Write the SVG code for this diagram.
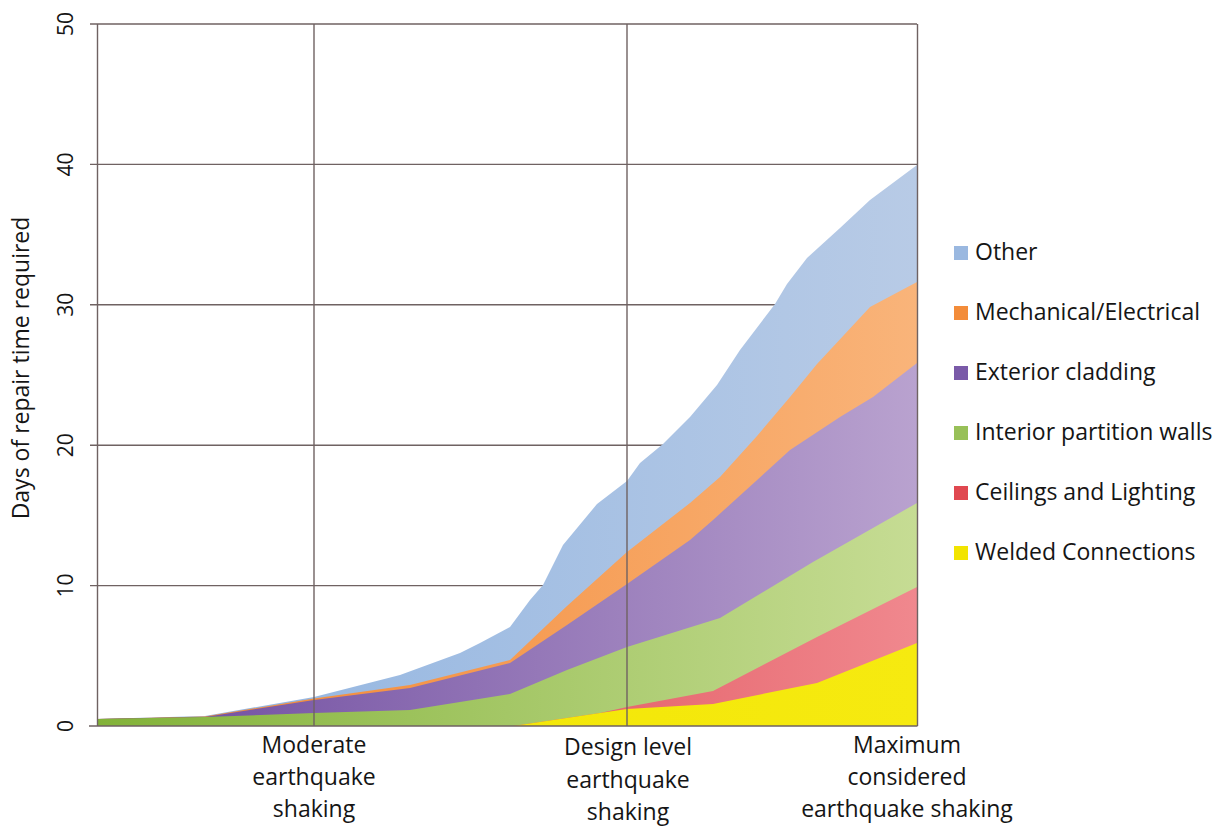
<svg xmlns="http://www.w3.org/2000/svg" width="1231" height="828" viewBox="0 0 1231 828">
<style>
.grid{stroke:#6f6262;stroke-width:1.4;fill:none}
.t{font-family:"Open Sans","Liberation Sans",sans-serif;fill:#151515}
.ax{font-size:23px;text-anchor:middle}
.tick{font-size:21px;text-anchor:middle}
.lg{font-size:23px}
</style>
<defs>
<linearGradient id="gBlue" gradientUnits="userSpaceOnUse" x1="97" y1="0" x2="917" y2="0"><stop offset="0" stop-color="#8db2e0"/><stop offset="1" stop-color="#b8cbe6"/></linearGradient>
<linearGradient id="gOrange" gradientUnits="userSpaceOnUse" x1="97" y1="0" x2="917" y2="0"><stop offset="0" stop-color="#f2822a"/><stop offset="1" stop-color="#f9b47a"/></linearGradient>
<linearGradient id="gPurple" gradientUnits="userSpaceOnUse" x1="97" y1="0" x2="917" y2="0"><stop offset="0" stop-color="#6b479d"/><stop offset="1" stop-color="#b9a2cf"/></linearGradient>
<linearGradient id="gGreen" gradientUnits="userSpaceOnUse" x1="97" y1="0" x2="917" y2="0"><stop offset="0" stop-color="#82b238"/><stop offset="1" stop-color="#c6dc94"/></linearGradient>
<linearGradient id="gRed" gradientUnits="userSpaceOnUse" x1="97" y1="0" x2="917" y2="0"><stop offset="0" stop-color="#d6303a"/><stop offset="1" stop-color="#f0888e"/></linearGradient>
<linearGradient id="gYellow" gradientUnits="userSpaceOnUse" x1="97" y1="0" x2="917" y2="0"><stop offset="0" stop-color="#f0e400"/><stop offset="1" stop-color="#f6ea10"/></linearGradient>
</defs>
<rect width="1231" height="828" fill="#ffffff"/>
<g id="gridlines">
<line class="grid" x1="90" y1="24" x2="917" y2="24"/>
<line class="grid" x1="90" y1="164.4" x2="917" y2="164.4"/>
<line class="grid" x1="90" y1="304.8" x2="917" y2="304.8"/>
<line class="grid" x1="90" y1="445.2" x2="917" y2="445.2"/>
<line class="grid" x1="90" y1="585.6" x2="917" y2="585.6"/>
</g>
<g id="areas">
<polygon id="other" fill="url(#gBlue)" points="97,719 205,716 314,697 400,675 460,653 480,643 510,627 530,600 543,585 563,545 597,504 627,481 640,463 663,444 690,417 717,385 740,350 775,304 787,284 807,258 840,228 870,200 917,165 917,726 97,726"/>
<polygon id="mech" fill="url(#gOrange)" points="97,719 205,716.5 314,698.5 410,685 510,660 567,606 627,552 690,503 720,477 757,436 790,397 817,364 870,307 917,282 917,726 97,726"/>
<polygon id="cladding" fill="url(#gPurple)" points="97,719 205,717 314,700 410,688 510,663 567,625 627,584 690,540 713,520 790,450 840,417 873,397 917,363 917,726 97,726"/>
<polygon id="partition" fill="url(#gGreen)" points="97,719 205,717 314,713 410,710 510,694 567,670 627,647 720,618 813,562 917,503 917,726 97,726"/>
<polygon id="ceilings" fill="url(#gRed)" points="97,726 513,726 600,713 627,707 713,691 817,637 917,587 917,726"/>
<polygon id="welded" fill="url(#gYellow)" points="97,726 513,726 600,713 627,709 713,704 817,683 917,643 917,726"/>
</g>
<g id="axes">
<line class="grid" x1="97.5" y1="24" x2="97.5" y2="726"/>
<line class="grid" x1="917.5" y1="24" x2="917.5" y2="726"/>
<line class="grid" x1="314" y1="24" x2="314" y2="726"/>
<line class="grid" x1="627" y1="24" x2="627" y2="726"/>
<line class="grid" x1="89" y1="726" x2="917.5" y2="726"/>
</g>
<g id="y-ticks" class="t tick">
<text transform="translate(73,24) rotate(-90)">50</text>
<text transform="translate(73,164.4) rotate(-90)">40</text>
<text transform="translate(73,304.8) rotate(-90)">30</text>
<text transform="translate(73,445.2) rotate(-90)">20</text>
<text transform="translate(73,585.6) rotate(-90)">10</text>
<text transform="translate(73,726) rotate(-90)">0</text>
</g>
<text class="t ax" transform="translate(29,368) rotate(-90)">Days of repair time required</text>
<g id="x-labels" class="t ax">
<text x="314" y="753">Moderate</text>
<text x="314" y="785">earthquake</text>
<text x="314" y="817">shaking</text>
<text x="628" y="755">Design level</text>
<text x="628" y="788">earthquake</text>
<text x="628" y="820">shaking</text>
<text x="907" y="753">Maximum</text>
<text x="907" y="785">considered</text>
<text x="907" y="817">earthquake shaking</text>
</g>
<g id="legend">
<g id="lg-other"><rect x="954" y="246" width="14" height="14" fill="#9ab8e0"/><text class="t lg" x="975" y="260">Other</text></g>
<g id="lg-mech"><rect x="954" y="306" width="14" height="14" fill="#f38c3a"/><text class="t lg" x="975" y="320">Mechanical/Electrical</text></g>
<g id="lg-cladding"><rect x="954" y="366" width="14" height="14" fill="#7a5aa8"/><text class="t lg" x="975" y="380">Exterior cladding</text></g>
<g id="lg-partition"><rect x="954" y="426" width="14" height="14" fill="#98c058"/><text class="t lg" x="975" y="440">Interior partition walls</text></g>
<g id="lg-ceilings"><rect x="954" y="486" width="14" height="14" fill="#e04850"/><text class="t lg" x="975" y="500">Ceilings and Lighting</text></g>
<g id="lg-welded"><rect x="954" y="546" width="14" height="14" fill="#f2e400"/><text class="t lg" x="975" y="560">Welded Connections</text></g>
</g>
</svg>
